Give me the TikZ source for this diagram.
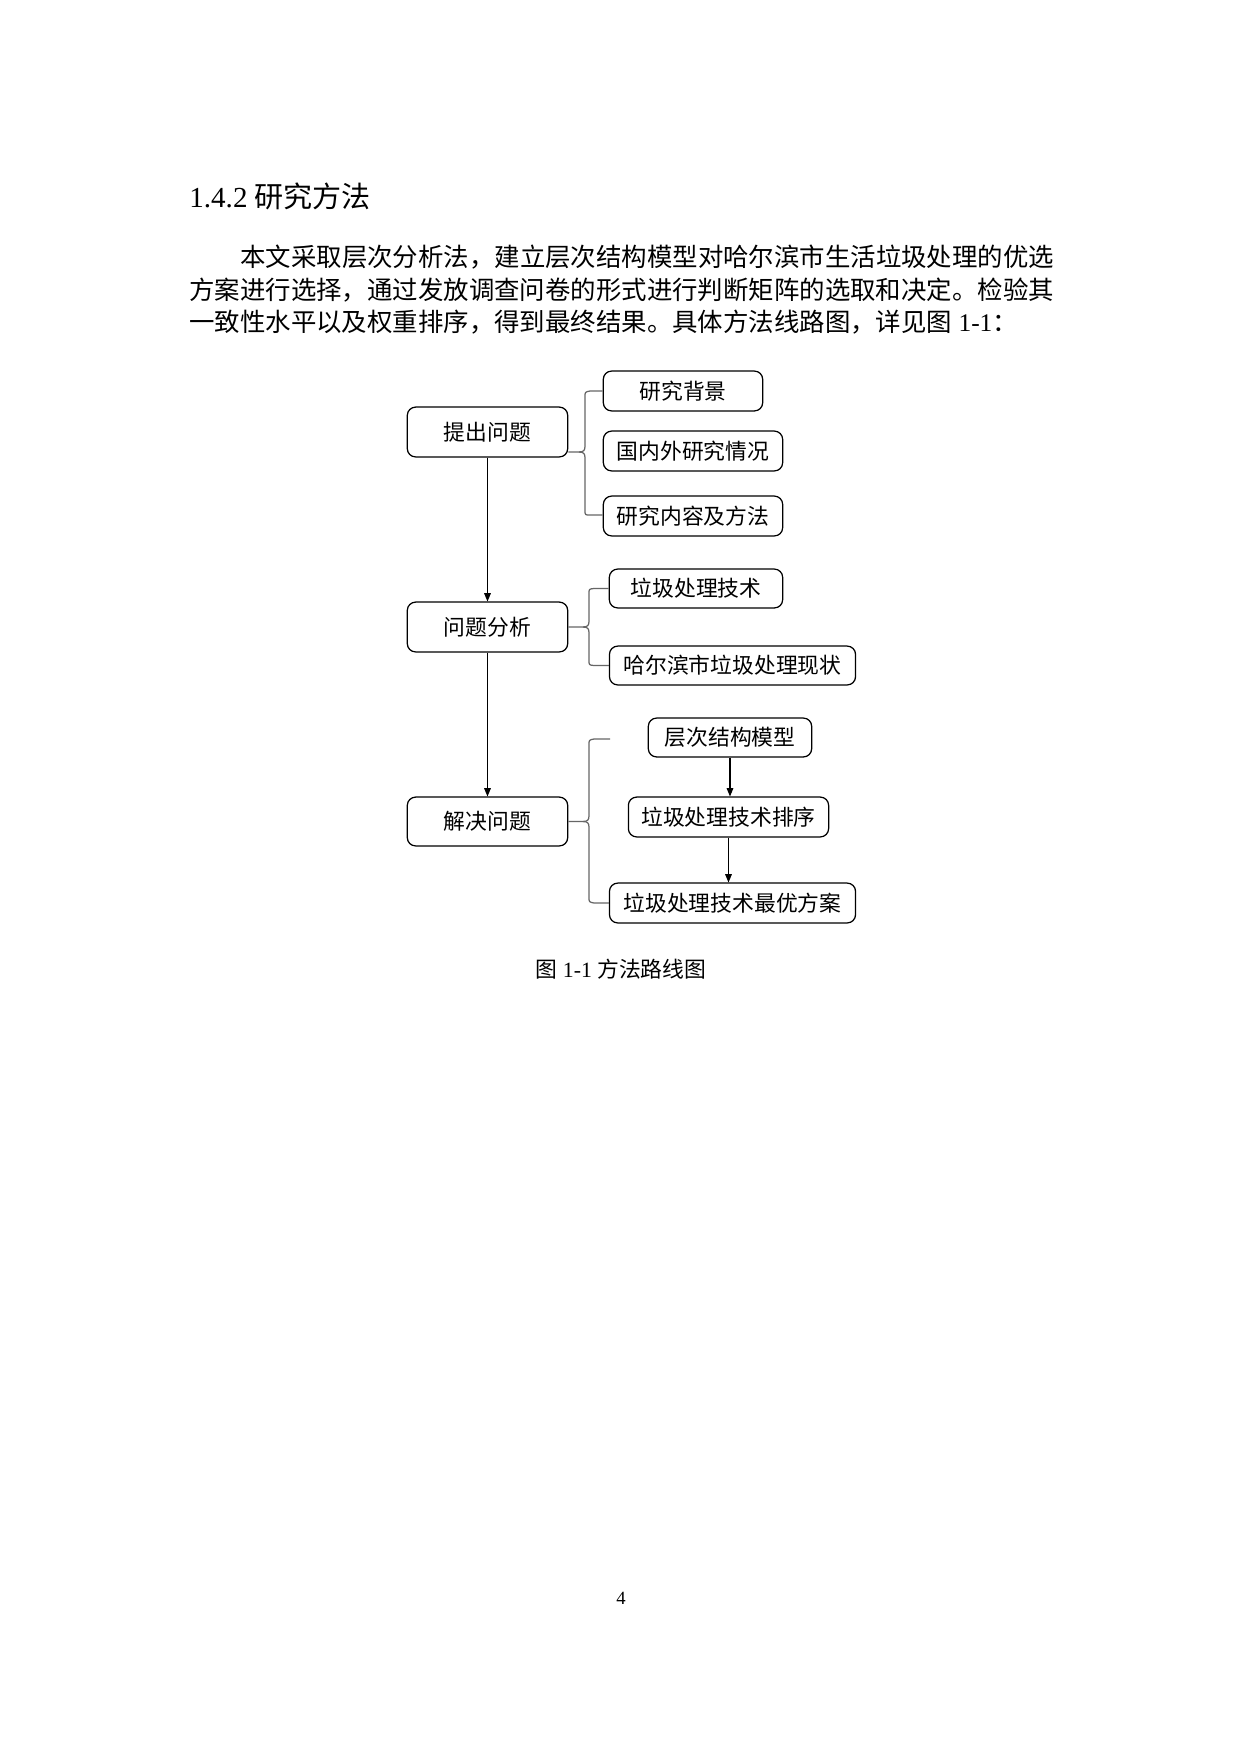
\documentclass[tikz,border=0pt]{standalone}
\usepackage{fontspec}
\setmainfont{Liberation Serif}
\newfontfamily\cjk{Noto Sans CJK SC}
\usetikzlibrary{arrows.meta,calc}
\tikzset{
  bx/.style={draw=black, line width=0.6pt, rounded corners=4pt, inner sep=0pt,
    font=\cjk\fontsize{10.5pt}{12pt}\selectfont},
  arr/.style={draw=black, line width=0.5pt, -{Triangle[length=4pt,width=3.2pt]}},
  brc/.style={draw=black!60, line width=0.6pt},
  bodyline/.style={anchor=west, inner sep=0pt, font=\cjk\fontsize{12.25pt}{14pt}\selectfont}
}
\newcommand\mkbox[6]{%
  \node[bx, minimum width={(#4-#2)*0.48pt}, minimum height={(#5-#3)*0.48pt}]
    (#1) at ({(#2+#4)/2},{(#3+#5)/2}) {#6};}
\begin{document}
\begin{tikzpicture}[x=0.169333mm, y=-0.169333mm]
\useasboundingbox (0,0) rectangle (1240,1754);
\fill[white] (0,0) rectangle (1240,1754);
% heading
\node[anchor=west, inner sep=0pt] (head) at (189,196)
  {\fontsize{14pt}{16pt}\selectfont 1.4.2 {\cjk 研究方法}};
% body
\node[bodyline] (l1) at (240,257) {本文采取层次分析法，建立层次结构模型对哈尔滨市生活垃圾处理的优选};
\node[bodyline] (l2) at (189,290) {方案进行选择，通过发放调查问卷的形式进行判断矩阵的选取和决定。检验其};
\node[bodyline] (l3) at (189,322) {一致性水平以及权重排序，得到最终结果。具体方法线路图，详见图{\rmfamily\fontsize{12.25pt}{14pt}\selectfont\ 1-1}：};
% boxes
\mkbox{q1}{407}{407}{568}{457}{提出问题}
\mkbox{b1}{603}{371}{763}{411}{研究背景}
\mkbox{b2}{603}{431}{783}{471}{国内外研究情况}
\mkbox{b3}{603}{496}{783}{536}{研究内容及方法}
\mkbox{q2}{407}{602}{568}{652}{问题分析}
\mkbox{c1}{609}{569}{783}{608}{垃圾处理技术}
\mkbox{c2}{609}{646}{856}{685}{哈尔滨市垃圾处理现状}
\mkbox{q3}{407}{797}{568}{846}{解决问题}
\mkbox{d1}{648}{718}{812}{757}{层次结构模型}
\mkbox{d2}{628}{797}{829}{837}{垃圾处理技术排序}
\mkbox{d3}{609}{883}{856}{923}{垃圾处理技术最优方案}
% arrows
\draw[arr] (q1.south) -- (q2.north);
\draw[arr] (q2.south) -- (q3.north);
\draw[arr] (d1.south) -- (d1.south |- d2.north);
\draw[arr] (d2.south) -- (d2.south |- d3.north);
% brace 1
\draw[brc] (q1.east |- 0,452) -- (579,452) .. controls (584,452) and (585,450) .. (585,446)
  -- (585,397) .. controls (585,392) .. (590,391) -- (b1.west);
\draw[brc] (579,452) .. controls (584,452) and (585,454) .. (585,458)
  -- (585,510) .. controls (585,515) .. (590,515) -- (b3.west |- 0,515);
% brace 2
\draw[brc] (q2.east |- 0,627) -- (583,627) .. controls (588,627) and (589,625) .. (589,621)
  -- (589,594) .. controls (589,589) .. (594,588.5) -- (c1.west);
\draw[brc] (583,627) .. controls (588,627) and (589,629) .. (589,633)
  -- (589,660) .. controls (589,665) .. (594,665.5) -- (c2.west);
% brace 3
\coordinate (e3) at (610,739);
\draw[brc] (q3.east) -- (583,821.5) .. controls (588,821.5) and (589,819.5) .. (589,815.5)
  -- (589,745) .. controls (589,740) .. (594,739) -- (e3);
\draw[brc] (583,821.5) .. controls (588,821.5) and (589,823.5) .. (589,827.5)
  -- (589,897) .. controls (589,902) .. (594,903) -- (d3.west);
% caption
\node[inner sep=0pt] (cap) at (621,969)
  {\fontsize{10.5pt}{12pt}\selectfont{\cjk 图}\ 1-1\ {\cjk 方法路线图}};
% page number
\node[inner sep=0pt] (pg) at (621,1598) {\fontsize{9pt}{10pt}\selectfont 4};
\end{tikzpicture}
\end{document}
